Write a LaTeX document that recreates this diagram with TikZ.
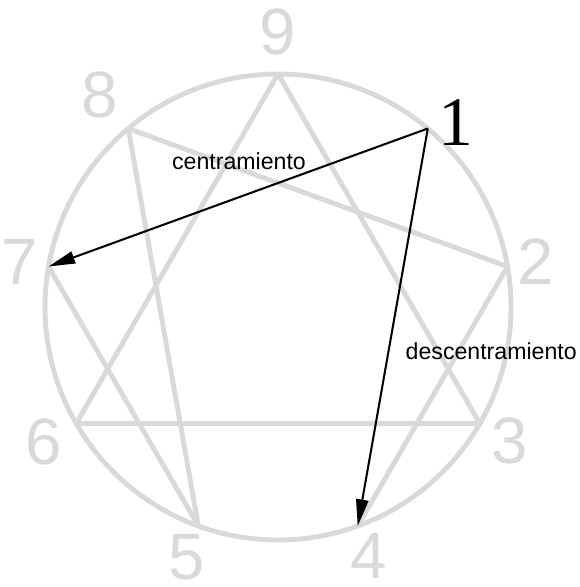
\documentclass[tikz,border=0pt]{standalone}
\usepackage{fontspec}
\setmainfont{Liberation Sans}
\newfontfamily\onefont{Liberation Serif}
\usetikzlibrary{arrows.meta}
\begin{document}
\begin{tikzpicture}[
  line/.style={gray!30, line width=2.4pt, line join=round},
  digit/.style={text=gray!30, inner sep=0pt, font=\fontsize{32}{32}\selectfont},
  arrow/.style={line width=1pt, -{Triangle[length=13pt,width=6pt]}},
  word/.style={font=\fontsize{11.3}{13}\selectfont}]
  \useasboundingbox (-4.773,-4.807) rectangle (5.167,5.270);
  % circle and points
  \draw[line] (0,0) circle (4);
  \foreach \n in {1,...,9}
    \coordinate (p\n) at ({90-40*\n}:4);
  % numbers
  \foreach \n/\r in {2/4.5,3/4.6,4/4.55,5/4.57,6/4.65,7/4.5,8/4.75,9/4.72}
    \node[digit] (d\n) at ({90-40*\n}:\r) {\n};
  \node[font=\onefont\fontsize{34}{34}\selectfont] (d1) at (46:4.4) {1};
  % triangle
  \draw[line] (p9) -- (p3) -- (p6) -- cycle;
  % hexad
  \draw[line] (p4) -- (p2) -- (p8) -- (p5) -- (p7);
  % arrows
  \draw[arrow] (p1) -- (p7);
  \draw[arrow] (p1) -- (p4);
  \node[word] (c) at (-0.67,2.51) {centramiento};
  \node[word] (dc) at (3.66,-0.755) {descentramiento};
\end{tikzpicture}
\end{document}
